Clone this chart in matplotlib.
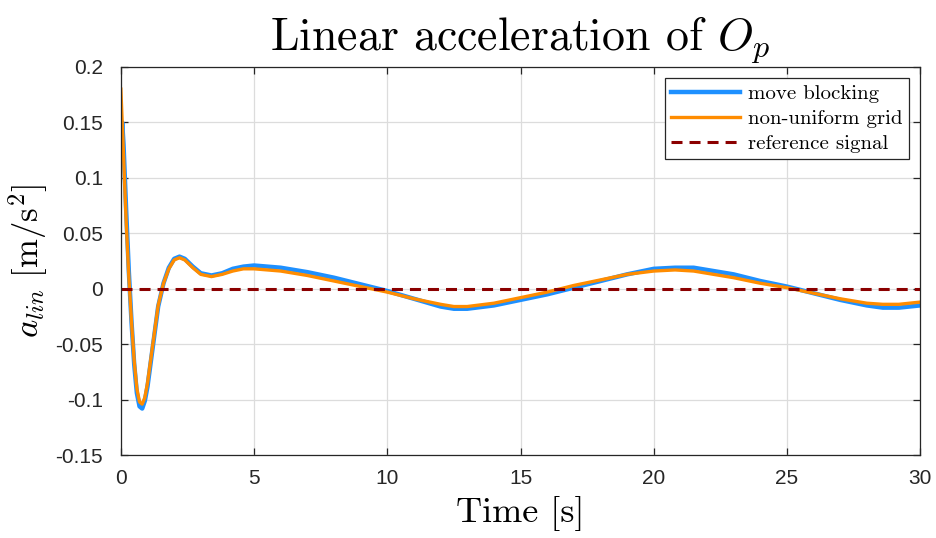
import matplotlib
matplotlib.use('Agg')
import matplotlib.pyplot as plt

plt.rcParams['mathtext.fontset'] = 'cm'
plt.rcParams['axes.unicode_minus'] = False

# time samples [s]
t = [0, 0.05, 0.1, 0.2, 0.3, 0.4, 0.5, 0.6, 0.7, 0.8, 0.9, 1.0, 1.2, 1.4, 1.6,
     1.8, 2.0, 2.2, 2.4, 2.7, 3.0, 3.4, 3.8, 4.2, 4.6, 5.0, 6, 7, 8, 9, 10, 11,
     12, 12.5, 13, 14, 15, 16, 17, 18, 19, 20, 20.8, 21.5, 22, 23, 24, 25, 26,
     27, 28, 28.6, 29.2, 30]

# linear acceleration, move blocking
a_mb = [0.125, 0.15, 0.13, 0.07, 0.015, -0.03, -0.068, -0.094, -0.106, -0.108,
        -0.101, -0.088, -0.052, -0.016, 0.005, 0.019, 0.027, 0.029, 0.027,
        0.020, 0.014, 0.012, 0.014, 0.018, 0.020, 0.021, 0.019, 0.015, 0.010,
        0.004, -0.002, -0.009, -0.016, -0.018, -0.018, -0.015, -0.010, -0.005,
        0.001, 0.007, 0.013, 0.018, 0.019, 0.019, 0.017, 0.013, 0.007, 0.002,
        -0.004, -0.010, -0.015, -0.017, -0.017, -0.015]

# linear acceleration, non-uniform grid
a_nu = [0.18, 0.15, 0.12, 0.06, 0.01, -0.03, -0.065, -0.09, -0.102, -0.104,
        -0.098, -0.085, -0.05, -0.015, 0.005, 0.018, 0.026, 0.028, 0.026,
        0.019, 0.013, 0.011, 0.013, 0.016, 0.018, 0.018, 0.016, 0.012, 0.007,
        0.002, -0.003, -0.009, -0.014, -0.016, -0.016, -0.013, -0.008, -0.003,
        0.003, 0.008, 0.013, 0.016, 0.017, 0.016, 0.014, 0.010, 0.005, 0.001,
        -0.004, -0.009, -0.013, -0.014, -0.014, -0.012]

t_ref = [0, 30]
a_ref = [0, 0]

fig = plt.figure(figsize=(9.37, 5.38), dpi=100)
ax = fig.add_axes([0.129, 0.154, 0.853, 0.7215])

ax.plot(t, a_mb, color='#1e90ff', lw=3.2, label='move blocking')
ax.plot(t, a_nu, color='#ff8c00', lw=2.4, label='non-uniform grid')
ax.plot(t_ref, a_ref, color='#8b0000', lw=2.2, dashes=(3.6, 2.3),
        label='reference signal')

ax.set_xlim(0, 30)
ax.set_ylim(-0.15, 0.2)
ax.set_xticks(range(0, 31, 5))
ax.set_yticks([-0.15, -0.1, -0.05, 0, 0.05, 0.1, 0.15, 0.2])
ax.set_yticklabels(['-0.15', '-0.1', '-0.05', '0', '0.05', '0.1', '0.15', '0.2'])

ax.grid(True, color='#dcdcdc', lw=0.9)
ax.set_axisbelow(True)
ax.tick_params(direction='in', top=True, right=True, length=5, width=0.9,
               labelsize=15, colors='#262626')
ax.tick_params(axis='y', pad=13)
ax.tick_params(axis='x', pad=10)
for lbl in ax.get_xticklabels() + ax.get_yticklabels():
    lbl.set_fontfamily('Liberation Sans')
for sp in ax.spines.values():
    sp.set_color('#262626')
    sp.set_linewidth(0.9)

ax.set_title(r'Linear acceleration of $O_p$', fontfamily='cmr10',
             fontsize=33, pad=12)
ax.set_xlabel('Time [s]', fontfamily='cmr10', fontsize=26, labelpad=6)
ax.set_ylabel(r'$a_{lin}\ [\mathrm{m/s}^2]$', fontsize=25, labelpad=4)

leg = ax.legend(loc='upper right', prop={'family': 'cmr10', 'size': 15},
                fancybox=False, framealpha=1, edgecolor='#262626',
                borderaxespad=0.55, handlelength=3.3, labelspacing=0.3,
                borderpad=0.3, handletextpad=0.4)
leg.get_frame().set_linewidth(0.9)

fig.savefig('out.png', dpi=100)
